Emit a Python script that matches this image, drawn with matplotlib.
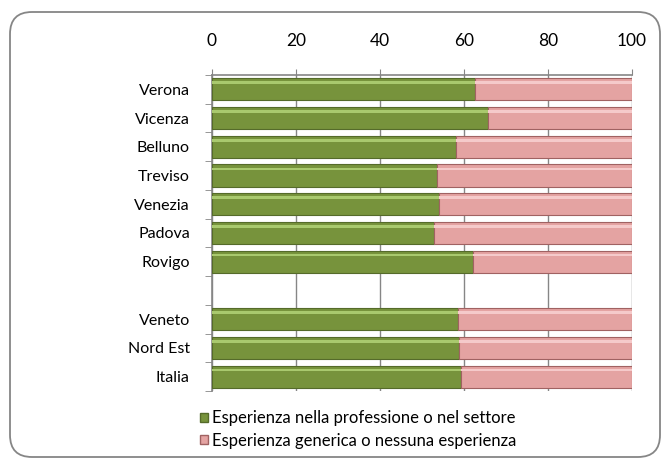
import matplotlib
matplotlib.use("Agg")
import matplotlib.pyplot as plt
from matplotlib.patches import FancyBboxPatch, Patch
import numpy as np

categories = ["Verona", "Vicenza", "Belluno", "Treviso", "Venezia", "Padova", "Rovigo",
              "", "Veneto", "Nord Est", "Italia"]
settore = [62.5, 65.6, 58.0, 53.5, 54.0, 52.8, 62.2, np.nan, 58.6, 58.8, 59.3]
generica = [100 - v if not np.isnan(v) else np.nan for v in settore]
series_names = ["Esperienza nella professione o nel settore",
                "Esperienza generica o nessuna esperienza"]
xticks = [0, 20, 40, 60, 80, 100]

plt.rcParams['font.family'] = ['Lato', 'DejaVu Sans']

W, H = 663, 459
fig = plt.figure(figsize=(W/100, H/100), dpi=100)
ax = fig.add_axes([212/W, 1 - 391/H, (632-212)/W, (391-75)/H])

y = np.arange(len(categories))
green = "#77933C"
green_edge = "#556B2A"
green_hi = "#A9C96E"
pink = "#E4A3A2"
pink_edge = "#A06262"
pink_hi = "#F5CACA"
h = 0.77
s = np.array(settore, dtype=float)
g = np.array(generica, dtype=float)
ax.barh(y, s, height=h, color=green, edgecolor=green_edge, linewidth=0.8, zorder=3)
ax.barh(y, g, left=s, height=h, color=pink, edgecolor=pink_edge, linewidth=0.8, zorder=3)
# bevel highlight
ax.barh(y - h*0.3, s, height=h*0.12, color=green_hi, linewidth=0, zorder=4)
ax.barh(y - h*0.3, g, left=s, height=h*0.12, color=pink_hi, linewidth=0, zorder=4)

ax.set_xlim(0, 100)
ax.set_ylim(len(categories) - 0.5, -0.5)
ax.set_xticks(xticks)
ax.xaxis.tick_top()
ax.tick_params(axis='x', which='major', length=4, color="#868686", labelsize=12.5, pad=15,
               direction='out')
ax.set_yticks(y)
ax.set_yticklabels(categories, fontsize=11.5)
ax.set_yticks(np.arange(-0.5, len(categories), 1), minor=True)
ax.tick_params(axis='y', which='major', length=0, pad=16)
ax.tick_params(axis='y', which='minor', length=5, color="#868686", direction='out')
ax.grid(axis='x', color="#868686", linewidth=1.0, zorder=0)
for sp in ['right', 'bottom']:
    ax.spines[sp].set_visible(False)
for sp in ['top', 'left']:
    ax.spines[sp].set_color("#868686")
    ax.spines[sp].set_linewidth(1.2)

handles = [Patch(facecolor=green, edgecolor=green_edge, label=series_names[0]),
           Patch(facecolor=pink, edgecolor=pink_edge, label=series_names[1])]
fig.legend(handles=handles, loc='upper left', bbox_to_anchor=(200/W, 1 - 410/H),
           frameon=False, fontsize=12, handlelength=0.45, handleheight=0.45,
           handletextpad=0.25, labelspacing=0.4, borderpad=0, borderaxespad=0)

border = FancyBboxPatch((10, 2), 650, H - 12 - 2,
                        boxstyle="round,pad=0,rounding_size=22",
                        transform=None, facecolor="none",
                        edgecolor="#868686", linewidth=1.3)
fig.patches.append(border)

fig.savefig("out.png", dpi=100)
